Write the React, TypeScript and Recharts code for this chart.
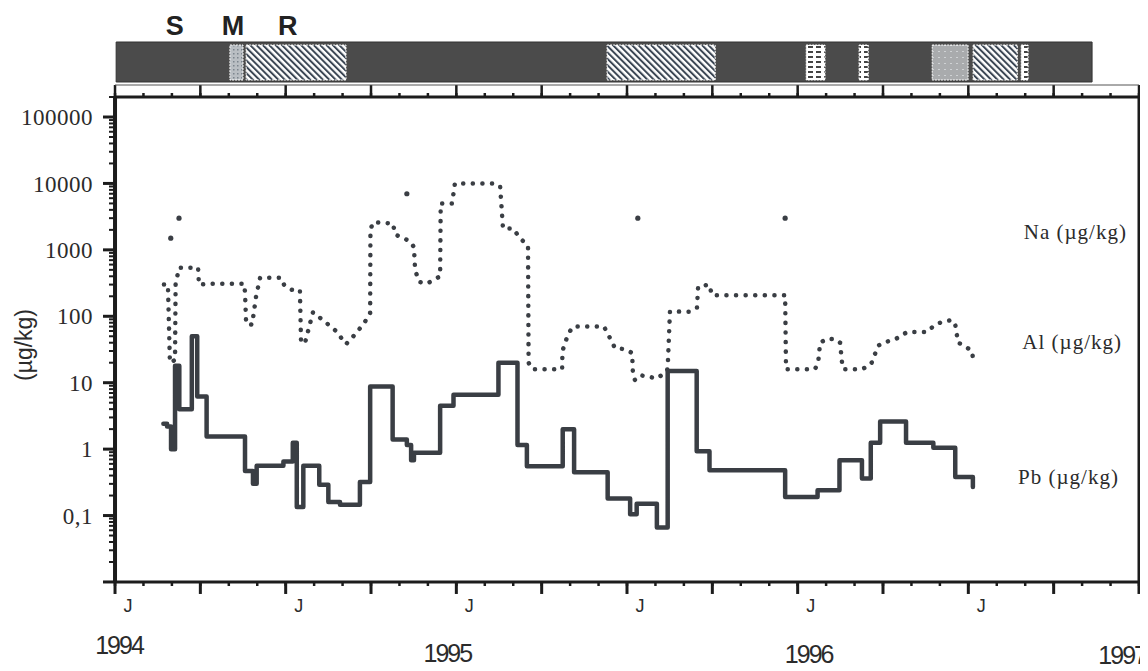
import React from 'react';
import { ComposedChart, Line, Scatter, XAxis, YAxis, ReferenceArea, ReferenceLine } from 'recharts';

// ---- data (x = months since January 1994) ----
const pbMonths = [1.70, 1.83, 1.97, 2.11, 2.26, 2.70, 2.89, 3.22, 4.57, 4.85, 4.98, 5.92, 6.25, 6.39, 6.62, 7.18, 7.50, 7.91, 8.61, 8.97, 9.76, 10.26, 10.41, 10.51, 11.43, 11.90, 13.48, 14.15, 14.48, 15.74, 16.14, 17.32, 18.11, 18.34, 19.05, 19.43, 20.45, 20.90, 23.56, 24.70, 25.47, 26.26, 26.57, 26.90, 27.81, 28.77, 29.54, 30.16];
const pbValues = [2.4, 2.2, 1.0, 18, 4.0, 50, 6.2, 1.55, 0.47, 0.30, 0.56, 0.65, 1.25, 0.135, 0.56, 0.29, 0.16, 0.145, 0.32, 8.8, 1.4, 1.15, 0.68, 0.88, 4.5, 6.6, 20, 1.15, 0.55, 2.0, 0.45, 0.18, 0.105, 0.15, 0.066, 15, 0.93, 0.48, 0.19, 0.24, 0.68, 0.36, 1.25, 2.6, 1.25, 1.05, 0.38, 0.27];

const alMonths = [1.72, 1.86, 1.93, 2.11, 2.13, 2.25, 2.92, 2.95, 3.38, 4.54, 4.57, 4.61, 4.82, 4.96, 5.10, 5.84, 5.94, 6.22, 6.50, 6.54, 6.68, 6.96, 7.42, 7.77, 8.12, 8.47, 8.79, 8.97, 8.98, 9.07, 9.77, 9.85, 10.37, 10.51, 10.55, 10.69, 10.97, 11.43, 11.45, 11.85, 11.95, 13.36, 13.54, 13.64, 13.99, 14.24, 14.52, 14.54, 14.66, 15.72, 15.73, 15.93, 16.10, 17.19, 17.33, 17.58, 17.93, 18.18, 18.21, 18.28, 18.46, 19.06, 19.41, 19.44, 19.51, 20.22, 20.46, 20.50, 20.89, 20.99, 23.56, 23.59, 24.61, 24.72, 24.79, 25.04, 25.35, 25.49, 25.56, 25.60, 26.27, 26.58, 26.83, 27.00, 27.43, 27.85, 28.55, 28.83, 29.11, 29.43, 29.54, 29.64, 29.82, 30.13, 30.17];
const alValues = [300, 300, 20, 22, 300, 540, 540, 300, 310, 310, 230, 77, 75, 200, 380, 380, 300, 250, 250, 40, 40, 115, 80, 60, 38, 55, 83, 113, 2000, 2600, 2500, 1700, 1350, 1100, 500, 330, 310, 400, 5000, 5000, 10000, 10000, 9000, 2100, 2100, 1500, 1150, 20, 16, 16, 30, 54, 70, 70, 54, 33, 32, 28, 13, 11, 13, 11.6, 15, 21, 118, 117, 135, 280, 300, 208, 208, 16, 16, 20, 40, 46, 45, 40, 20, 16, 16, 19, 36, 40, 45, 58, 58, 75, 83, 88, 75, 40, 37, 30, 22];

const naMonths = [1.96, 2.25, 10.26, 18.38, 23.56];
const naValues = [1500, 3000, 7000, 3000, 3000];

const seriesNames = ['Na (µg/kg)', 'Al (µg/kg)', 'Pb (µg/kg)'];
const seriesLabelMonths = [31.95, 31.9, 31.75];
const seriesLabelValues = [1850, 41, 0.38];

// axis ticks
const yMajorTicks = [0.01, 0.1, 1, 10, 100, 1000, 10000, 100000];
const yDecades = [0.01, 0.1, 1, 10, 100, 1000, 10000];
const yMinorTicks = [...yDecades.flatMap((d) => [2, 3, 4, 5, 6, 7, 8, 9].map((k) => k * d)), 200000];
const quarterMonths = [0, 3, 6, 9, 12, 15, 18, 21, 24, 27, 30, 33, 36];
const allMonths = Array.from({ length: 37 }, (_, i) => i);
const jMonths = [0, 6, 12, 18, 24, 30];
const yearMonths = [0, 12, 24, 36];
const yearLabels = ['1994', '1995', '1996', '1997'];

// top band: sampling periods
const bandStart = 0.04;
const bandEnd = 34.35;
const periodStarts = [4.04, 4.61, 17.3, 24.3, 26.16, 28.73, 30.17, 31.86];
const periodEnds = [4.5, 8.12, 21.1, 24.96, 26.48, 29.99, 31.72, 32.1];
const periodKinds = ['dots', 'hatch', 'hatch', 'brick', 'brick', 'grey', 'hatch', 'brick'];
const bandLetters = ['S', 'M', 'R'];
const bandLetterMonths = [2.1, 4.15, 6.07];

const pbData = pbMonths.map((m, i) => ({ m, v: pbValues[i] }));
const alData = alMonths.map((m, i) => ({ m, v: alValues[i] }));
const naData = naMonths.map((m, i) => ({ m, v: naValues[i] }));
const labelData = seriesNames.map((name, i) => ({ m: seriesLabelMonths[i], v: seriesLabelValues[i], name }));
const bandData = periodStarts.map((m, i) => ({ m, b: 0.5, k: periodKinds[i] }));

const INK = '#3a3e44';
const AXIS = '#1c1c1c';
const SERIF = '"Liberation Serif", "Times New Roman", serif';
const SANS = '"Liberation Sans", Arial, sans-serif';
const THIN = 0.01;

const NoTick = () => <g />;

const JTick = (props: any) => {
  const { x, payload } = props;
  if (!jMonths.includes(payload.value)) return <g />;
  return (
    <text x={x + 13} y={612} textAnchor="middle" fontFamily={SANS} fontSize={18} fill="#2b2b2b">J</text>
  );
};

const yearDx = [4, -9, 11, 7];
const yearY = [654, 662, 663, 664];
const yearAnchor = ['middle', 'middle', 'middle', 'end'];
const YearTick = (props: any) => {
  const { x, payload } = props;
  const i = yearMonths.indexOf(payload.value);
  if (i < 0) return <g />;
  return (
    <text x={x + yearDx[i]} y={yearY[i]} textAnchor={yearAnchor[i]} fontFamily={SANS} fontSize={25} letterSpacing={-2} fill="#2b2b2b">
      {yearLabels[i]}
    </text>
  );
};

const LetterTick = (props: any) => {
  const { x, payload } = props;
  const i = bandLetterMonths.indexOf(payload.value);
  if (i < 0) return <g />;
  return (
    <text x={x} y={35} textAnchor="middle" fontFamily={SANS} fontWeight="bold" fontSize={27} fill="#222">
      {bandLetters[i]}
    </text>
  );
};

const yFormat = (v: number) => {
  if (v === 0.01) return '';
  if (v === 0.1) return '0,1';
  return String(v);
};

const NaDot = (p: any) => <circle cx={p.cx} cy={p.cy} r={2.6} fill={INK} />;
const SeriesLabel = (p: any) => (
  <text x={p.cx} y={p.cy} dy={7} textAnchor="start" fontFamily={SERIF} fontSize={21} letterSpacing={1} fill="#2b2b2b">
    {p.payload.name}
  </text>
);

const YTitle = () => (
  <text x={24} y={345} transform="rotate(-90 24 345)" textAnchor="middle" dominantBaseline="central" fontFamily={SANS} fontSize={23} fill="#2b2b2b">
    (µg/kg)
  </text>
);

const fillFor: Record<string, string> = {
  dots: 'url(#pDots)',
  hatch: 'url(#pHatch)',
  brick: 'url(#pBrick)',
  grey: 'url(#pGrey)',
};

export default function App() {
  const axisCommon = { type: 'number' as const, dataKey: 'm', domain: [0, 36], allowDataOverflow: true, interval: 0 as const };
  const yCommon = { type: 'number' as const, dataKey: 'v', scale: 'log' as const, domain: [0.01, 200000], allowDataOverflow: true, interval: 0 as const };
  return (
    <div style={{ position: 'relative', width: 1148, height: 671, margin: '-8px 0 0 -8px', background: '#fff' }}>
      <div style={{ position: 'absolute', left: 0, top: 0 }}>
        <ComposedChart width={1148} height={671} margin={{ top: 97, right: 9, bottom: 89, left: 115 }}>
          <XAxis {...axisCommon} ticks={quarterMonths} height={THIN} tickSize={12}
            axisLine={{ stroke: AXIS, strokeWidth: 3 }} tickLine={{ stroke: AXIS, strokeWidth: 3 }} tick={JTick} />
          <XAxis {...axisCommon} xAxisId="botMinor" ticks={allMonths} height={THIN} tickSize={4}
            axisLine={false} tickLine={{ stroke: AXIS, strokeWidth: 2.5 }} tick={NoTick} />
          <XAxis {...axisCommon} xAxisId="years" ticks={yearMonths} height={THIN} tickSize={0}
            axisLine={false} tickLine={false} tick={YearTick} />
          <XAxis {...axisCommon} xAxisId="top" orientation="top" ticks={quarterMonths} height={THIN} tickSize={12}
            axisLine={{ stroke: AXIS, strokeWidth: 3 }} tickLine={{ stroke: AXIS, strokeWidth: 2.5 }} tick={NoTick} />
          <XAxis {...axisCommon} xAxisId="topMinor" orientation="top" ticks={allMonths} height={THIN} tickSize={4}
            axisLine={false} tickLine={{ stroke: AXIS, strokeWidth: 2.5 }} tick={NoTick} />
          <YAxis {...yCommon} ticks={yMajorTicks} width={THIN} tickSize={12} tickMargin={10}
            axisLine={{ stroke: AXIS, strokeWidth: 4 }} tickLine={{ stroke: AXIS, strokeWidth: 3 }}
            tickFormatter={yFormat}
            tick={{ fontFamily: SERIF, fontSize: 23, fill: '#2b2b2b', letterSpacing: 0.5 }}
            label={YTitle} />
          <YAxis {...yCommon} yAxisId="minor" ticks={yMinorTicks} width={THIN} tickSize={6}
            axisLine={false} tickLine={{ stroke: AXIS, strokeWidth: 2 }} tick={NoTick} />
          <YAxis {...yCommon} yAxisId="right" orientation="right" width={THIN} tick={false} tickLine={false}
            axisLine={{ stroke: AXIS, strokeWidth: 3 }} />
          <Line data={alData} dataKey="v" type="linear" stroke={INK} strokeWidth={4.5}
            strokeDasharray="0.1 9.5" strokeLinecap="round" dot={false} activeDot={false} isAnimationActive={false} />
          <Line data={pbData} dataKey="v" type="stepAfter" stroke={INK} strokeWidth={4.5}
            strokeLinejoin="round" strokeLinecap="round" dot={false} activeDot={false} isAnimationActive={false} />
          <Scatter data={naData} dataKey="v" shape={NaDot} isAnimationActive={false} />
          <Scatter data={labelData} dataKey="v" shape={SeriesLabel} isAnimationActive={false} />
        </ComposedChart>
      </div>
      <div style={{ position: 'absolute', left: 0, top: 0 }}>
        <ComposedChart width={1148} height={86} margin={{ top: 42, right: 9, bottom: 1, left: 115 }} data={bandData}>
          <defs>
            <pattern id="pHatch" width="4.5" height="4.5" patternUnits="userSpaceOnUse" patternTransform="rotate(-45)">
              <rect width="4.5" height="4.5" fill="#ffffff" />
              <line x1="1" y1="0" x2="1" y2="4.5" stroke="#3b4654" strokeWidth="2" />
            </pattern>
            <pattern id="pDots" width="4" height="4" patternUnits="userSpaceOnUse">
              <rect width="4" height="4" fill="#b9bec3" />
              <rect x="1" y="1" width="1.5" height="1.5" fill="#7c858e" />
            </pattern>
            <pattern id="pBrick" width="8" height="5" patternUnits="userSpaceOnUse">
              <rect width="8" height="5" fill="#ffffff" />
              <rect x="0" y="1" width="5" height="2" fill="#444" />
            </pattern>
            <pattern id="pGrey" width="6" height="6" patternUnits="userSpaceOnUse">
              <rect width="6" height="6" fill="#a9abad" />
              <rect x="2" y="3" width="2" height="1" fill="#cfd2d4" />
            </pattern>
          </defs>
          <XAxis {...axisCommon} orientation="top" ticks={bandLetterMonths} height={THIN}
            axisLine={false} tickLine={false} tick={LetterTick} />
          <YAxis type="number" domain={[0, 1]} width={THIN} axisLine={false} tickLine={false} tick={false} dataKey="b" />
          <Line dataKey="b" stroke="none" dot={false} activeDot={false} isAnimationActive={false} />
          <ReferenceLine y={0} stroke="#555" strokeWidth={1} ifOverflow="visible" />
          <ReferenceArea x1={bandStart} x2={bandEnd} y1={0.07} y2={1} fill="#4b4b4b" fillOpacity={1} stroke="#333" strokeWidth={1} ifOverflow="visible" />
          {periodStarts.map((s, i) => (
            <ReferenceArea key={i} x1={s} x2={periodEnds[i]} y1={0.116} y2={0.93}
              fill={fillFor[periodKinds[i]]} fillOpacity={1} stroke="#ffffff" strokeWidth={1} strokeDasharray="2 1" ifOverflow="visible" />
          ))}
        </ComposedChart>
      </div>
    </div>
  );
}
